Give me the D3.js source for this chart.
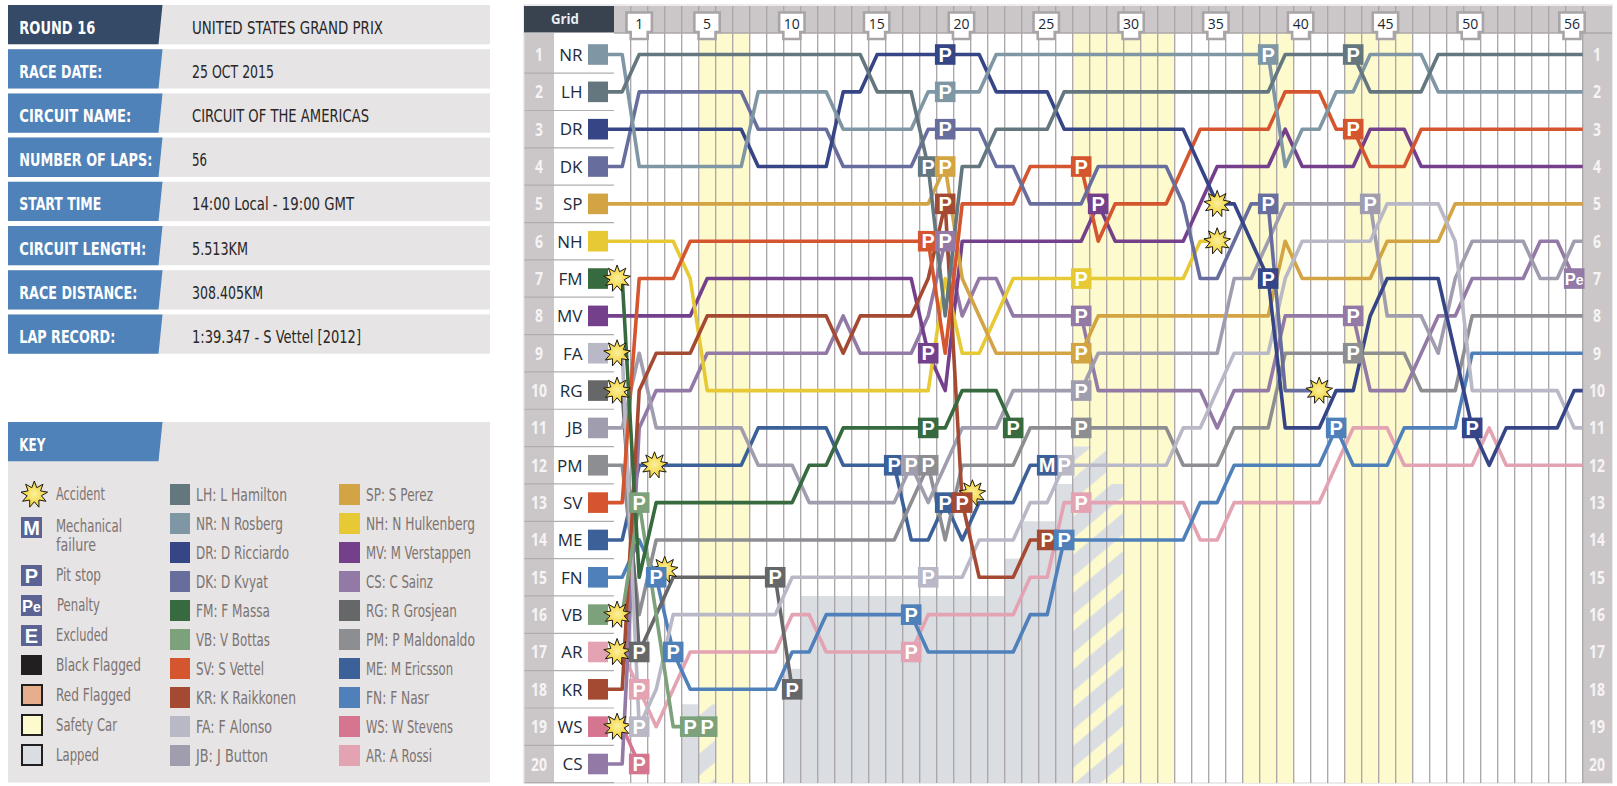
<!DOCTYPE html>
<html><head><meta charset="utf-8">
<style>html,body{margin:0;padding:0;background:#fff}svg{display:block}</style>
<script src="https://cdn.jsdelivr.net/npm/d3@7/dist/d3.min.js"></script>
</head><body><svg id="c" width="1617" height="786"></svg>
<script>
// ---------- DATA ----------
const gridOrder=["NR","LH","DR","DK","SP","NH","FM","MV","FA","RG","JB","PM","SV","ME","FN","VB","AR","KR","WS","CS"];
const drawOrder=["AR","WS","FN","ME","PM","RG","CS","MV","NH","SP","JB","FA","KR","SV","VB","FM","DK","DR","NR","LH"];
const lapTicks=[1,5,10,15,20,25,30,35,40,45,50,56];
const NR=[4,4,4,4,4,4,4,2,2,2,2,2,3,3,3,3,3,2,2,2,2,1,1,1,1,1,1,1,1,1,1,1,1,1,1,1,1,1,4,3,3,2,2,1,1,1,1,2,2,2,2,2,2,2,2,2];
const LH=[1,1,1,1,1,1,1,1,1,1,1,1,1,1,2,2,2,4,8,4,4,3,3,3,3,2,2,2,2,2,2,2,2,2,2,2,2,2,1,1,1,1,1,2,2,2,2,1,1,1,1,1,1,1,1,1];
const DR=[3,3,3,3,3,3,3,4,4,4,4,4,2,2,1,1,1,1,1,1,1,2,2,2,2,3,3,3,3,3,3,3,3,4,5,5,6,7,11,11,11,10,10,8,7,7,7,7,9,11,12,11,11,11,11,10];
const DK=[2,2,2,2,2,2,2,3,3,3,3,3,4,4,4,4,4,3,3,3,3,4,4,5,5,5,5,4,4,4,4,4,5,7,7,6,5,5,10,10,10];
const SP=[5,5,5,5,5,5,5,5,5,5,5,5,5,5,5,5,5,5,4,7,8,9,9,9,9,9,9,8,8,8,8,8,8,8,8,8,8,8,6,7,7,7,7,7,6,6,6,6,5,5,5,5,5,5,5,5];
const NH=[6,6,6,7,10,10,10,10,10,10,10,10,10,10,10,10,10,10,7,9,9,8,7,7,7,7,7,7,7,7,7,7,7,6,6];
const FM=[15,13,13,13,13,13,13,13,13,13,12,12,11,11,11,11,11,11,11,10,10,10,11];
const MV=[8,8,8,8,7,7,7,7,7,7,7,7,7,7,7,7,7,9,10,6,6,6,6,6,6,6,6,5,6,6,6,6,6,5,4,4,4,4,3,4,4,4,4,3,3,3,4,4,4,4,4,4,4,4,4,4];
const FA=[19,18,16,16,16,16,16,16,16,15,15,15,15,15,15,15,15,15,15,15,14,14,14,13,13,12,12,12,12,12,12,12,11,11,10,9,9,9,7,6,6,6,6,6,5,5,5,5,6,10,10,10,10,10,10,11];
const RG=[17,16,15,15,15,15,15,15,15,18];
const JB=[9,11,11,11,11,11,11,12,12,12,13,13,13,13,13,13,12,13,12,11,11,11,10,10,10,10,10,9,9,9,9,9,9,9,9,7,7,6,5,5,5,5,5,5,8,8,8,9,7,6,6,6,6,7,7,6];
const PM=[16,14,14,14,14,14,14,14,14,14,14,14,14,14,14,14,13,12,14,12,12,12,12,11,11,11,11,11,11,11,11,11,12,12,12,11,11,11,9,9,9,9,9,9,9,9,10,10,10,8,8,8,8,8,8,8];
const SV=[7,7,7,6,6,6,6,6,6,6,6,6,6,6,6,6,6,6,9,5,5,5,5,4,4,4,4,6,5,5,5,5,4,3,3,3,3,3,2,2,2,3,3,4,4,4,3,3,3,3,3,3,3,3,3,3];
const ME=[12,12,12,12,12,12,12,11,11,11,11,11,12,12,12,12,14,14,13,14,13,13,13,12,12];
const FN=[14,15,17,18,18,18,18,18,18,17,17,16,16,16,16,16,16,17,17,17,17,17,17,16,16,14,14,14,14,14,14,14,14,13,13,12,12,12,12,12,12,11,12,12,12,11,11,11,11,9,9,9,9,9,9,9];
const VB=[13,16,19,19,19];
const AR=[18,19,18,17,17,17,17,17,17,16,16,17,17,17,17,17,17,16,16,16,16,16,16,15,15,13,13,13,13,13,13,13,13,14,14,13,13,13,13,13,13,12,11,11,11,12,12,12,12,12,11,12,12,12,12,12];
const KR=[10,9,9,9,8,8,8,8,8,8,8,8,9,8,8,8,8,7,5,13,15,15,15,14,14];
const WS=[20];
const CS=[11,10,10,10,9,9,9,9,9,9,9,9,8,9,9,9,9,8,6,8,7,7,8,8,8,8,8,10,10,10,10,10,10,10,11,10,10,10,8,8,8,8,8,10,10,10,9,8,8,7,7,7,7,6,6,7];
const positions={NR,LH,DR,DK,SP,NH,FM,MV,FA,RG,JB,PM,SV,ME,FN,VB,AR,KR,WS,CS};
const driverColors={LH:"#64777f",NR:"#7f96a5",DR:"#354586",DK:"#676e9e",FM:"#376a3f",VB:"#7da27b",SV:"#d4552e",KR:"#a54a32",FA:"#b9b8c6",JB:"#a09dae",SP:"#d3a443",NH:"#e6c935",MV:"#743f8b",CS:"#9379a5",RG:"#666769",PM:"#8d8e92",ME:"#3c6199",FN:"#4f80b9",WS:"#d5758f",AR:"#e3a3b2"};
const pitDrivers=["VB","VB","VB","RG","RG","RG","FA","FA","FA","FN","FN","FN","FN","FN","AR","AR","AR","WS","JB","JB","JB","ME","ME","PM","PM","PM","LH","LH","SV","SV","SV","MV","MV","DR","DR","DR","NR","NR","DK","DK","SP","SP","KR","KR","KR","CS","CS","CS","FM","FM","NH"];
const pitLaps=[1,4,5,1,9,10,1,18,26,2,3,17,26,42,1,17,27,1,17,27,44,16,19,18,27,43,18,43,18,27,43,18,28,19,38,50,19,38,19,38,19,27,19,20,25,19,27,43,18,23,27];
const starLaps=[-0.3,-0.3,-0.3,-0.3,-0.3,-0.3,1.9,2.5,20.6,35,35,41];
const starRows=[7,9,10,16,17,19,12,14.8,12.75,5,6,10];
const safetyStart=[5,27,37,43];
const safetyEnd=[7,32,39,46];
const lappedLaps=[4,5,10,11,12,13,14,15,16,17,18,19,20,21,22,23,24,25,26,27,28,29];
const lappedRows=[18.9,18.9,17.95,16,16,16,16,16,16,16,16,16,16,16,16,15,14,14,13,12,12,13];
const hatchedLaps=[5,27,28,29];
const infoLabels=["ROUND 16","RACE DATE:","CIRCUIT NAME:","NUMBER OF LAPS:","START TIME","CIRCUIT LENGTH:","RACE DISTANCE:","LAP RECORD:"];
const infoValues=["UNITED STATES GRAND PRIX","25 OCT 2015","CIRCUIT OF THE AMERICAS","56","14:00 Local - 19:00 GMT","5.513KM","308.405KM","1:39.347 - S Vettel [2012]"];
const keyEvents=["Accident","Mechanical","failure","Pit stop","Penalty","Excluded","Black Flagged","Red Flagged","Safety Car","Lapped"];
const keyCol2=["LH: L Hamilton","NR: N Rosberg","DR: D Ricciardo","DK: D Kvyat","FM: F Massa","VB: V Bottas","SV: S Vettel","KR: K Raikkonen","FA: F Alonso","JB: J Button"];
const keyCol3=["SP: S Perez","NH: N Hulkenberg","MV: M Verstappen","CS: C Sainz","RG: R Grosjean","PM: P Maldonaldo","ME: M Ericsson","FN: F Nasr","WS: W Stevens","AR: A Rossi"];
// ---------- LAYOUT ----------
const infoLabelW=[76,83,112,133,82,127,118,96], infoValueW=[191,82,177,15,162,56,71,169];
const keyEventW=[49,66,40,45,43,52,85,75,61,43], keyEventY=[500,532,551,581,611,641,671,701,731,761], keyEventX=[56,56,56,56,57,56,56,56,56,56];
const keyCol2W=[91,87,93,72,74,74,68,100,76,72], keyCol3W=[67,109,105,67,91,109,87,63,87,66];
const condensed="'Liberation Sans Narrow','DejaVu Sans Condensed','Liberation Sans',sans-serif";
const svg=d3.select("#c");
const defs=svg.append("defs");
const grad=defs.append("radialGradient").attr("id","sun");
grad.append("stop").attr("offset","0%").attr("stop-color","#fbf0a0");
grad.append("stop").attr("offset","100%").attr("stop-color","#f3cf25");
const pat=defs.append("pattern").attr("id","hatch").attr("patternUnits","userSpaceOnUse").attr("width",29.3).attr("height",29.3).attr("patternTransform","rotate(-40)");
pat.append("rect").attr("y",1.4).attr("width",29.3).attr("height",16.7).attr("fill","#dadde2");

const x=d3.scaleLinear().domain([1,56]).range([639.2,1574.2]);
const y=d3.scaleLinear().domain([1,20]).range([54.5,764]);
const chartTop=33, chartBottom=783;

function txt(g,t,px,py,w,size,fill,weight){
  const e=g.append("text").attr("x",px).attr("y",py).attr("font-family",condensed).attr("font-size",size).attr("fill",fill).attr("font-weight",weight||"normal").text(t);
  if(w){e.attr("textLength",w).attr("lengthAdjust","spacingAndGlyphs");}
  return e;
}
// ---------- INFO PANEL ----------
const info=svg.append("g");
const labelPoly=(top)=>`8,${top} 162.5,${top} 158.5,${top+39.3} 8,${top+39.3}`;
infoLabels.forEach((l,i)=>{
  const top=5+i*44.2;
  info.append("rect").attr("x",8).attr("y",top).attr("width",482).attr("height",39.3).attr("fill","#e6e4e5");
  info.append("polygon").attr("points",labelPoly(top)).attr("fill",i===0?"#344a66":"#4f82b8");
  txt(info,l,19.3,top+28.5,infoLabelW[i],18,"#fff","bold");
  txt(info,infoValues[i],192,top+28.5,infoValueW[i],18,"#2a2626");
});
// ---------- KEY ----------
const key=svg.append("g");
key.append("rect").attr("x",8).attr("y",422).attr("width",482).attr("height",360.5).attr("fill","#e6e4e5");
key.append("polygon").attr("points",labelPoly(422)).attr("fill","#4f82b8");
txt(key,"KEY",19.3,450.5,26,18,"#fff","bold");
const keyText="#7d7370";
keyEvents.forEach((t,i)=>txt(key,t,keyEventX[i],keyEventY[i],keyEventW[i],18,keyText));
keyCol2.forEach((t,i)=>{
  key.append("rect").attr("x",170).attr("y",484+i*29).attr("width",20).attr("height",21).attr("fill",driverColors[t.slice(0,2)]);
  txt(key,t,196,501+i*29,keyCol2W[i],18,keyText);
});
keyCol3.forEach((t,i)=>{
  key.append("rect").attr("x",339).attr("y",484+i*29).attr("width",21).attr("height",21).attr("fill",driverColors[t.slice(0,2)]);
  txt(key,t,366,501+i*29,keyCol3W[i],18,keyText);
});
const sunR=[13.5,7.2];
const sunPath=d3.lineRadial().radius((d,i)=>sunR[i%2]).angle((d,i)=>i*Math.PI/9).curve(d3.curveLinearClosed)(d3.range(18));
function drawStar(g,cx,cy){
  g.append("path").attr("d",sunPath).attr("transform",`translate(${cx},${cy})`).attr("fill","url(#sun)").attr("stroke","#1c1a14").attr("stroke-width",1).attr("stroke-linejoin","miter");
}
function drawBox(g,cx,cy,color,label,w){
  const s=w||20.6;
  g.append("rect").attr("x",cx-s/2).attr("y",cy-s/2).attr("width",s).attr("height",s).attr("fill",color);
  const t=g.append("text").attr("x",cx).attr("y",cy+7.2).attr("text-anchor","middle").attr("font-family","'Liberation Sans',Arial,sans-serif").attr("font-weight","bold").attr("font-size",20).attr("fill","#fff");
  if(label==="Pe"){t.attr("font-size",16.5).attr("y",cy+6);t.append("tspan").text("P");t.append("tspan").attr("font-size",14).text("e");}
  else t.text(label);
}
drawStar(key,34.3,494.5);
const iconBlue="#5a6394";
drawBox(key,31.5,527.5,iconBlue,"M",21);
drawBox(key,31.5,575.5,iconBlue,"P",21);
drawBox(key,31.5,605.5,iconBlue,"Pe",21);
drawBox(key,31.5,635.5,iconBlue,"E",21);
key.append("rect").attr("x",21).attr("y",655).attr("width",21).attr("height",20).attr("fill","#231f20");
[["#e6ae8c",685],["#fdfacd",715],["#dadde2",745]].forEach(d=>{
  key.append("rect").attr("x",22).attr("y",d[1]).attr("width",20).attr("height",20).attr("fill",d[0]).attr("stroke","#231f20").attr("stroke-width",2);
});
// ---------- CHART FRAME ----------
const chart=svg.append("g");
chart.append("rect").attr("x",524).attr("y",5).attr("width",1088).attr("height",chartBottom-5).attr("fill","#fff").attr("stroke","#d9d6d7");
chart.append("rect").attr("x",614).attr("y",6).attr("width",998).attr("height",27).attr("fill","#cbc6c8");
chart.append("rect").attr("x",524.5).attr("y",33).attr("width",29.5).attr("height",chartBottom-33).attr("fill","#cbc6c8");
chart.append("rect").attr("x",x(56.5)).attr("y",33).attr("width",1612-x(56.5)).attr("height",chartBottom-33).attr("fill","#cbc6c8");
chart.append("rect").attr("x",524).attr("y",6).attr("width",90).attr("height",26.5).attr("fill","#38434f");
chart.append("text").attr("x",565).attr("y",24).attr("text-anchor","middle").attr("font-family","'Open Sans',sans-serif").attr("font-weight","bold").attr("font-size",15).attr("textLength",28).attr("lengthAdjust","spacingAndGlyphs").attr("fill","#e9eef2").text("Grid");
// safety car
safetyStart.forEach((s,i)=>{
  chart.append("rect").attr("x",x(s-0.5)).attr("y",chartTop).attr("width",x(safetyEnd[i]+0.5)-x(s-0.5)).attr("height",chartBottom-chartTop).attr("fill","#fdfacd");
});
// lapped cars
lappedLaps.forEach((l,i)=>{
  const top=y(lappedRows[i]-0.5);
  chart.append("rect").attr("x",x(l-0.5)).attr("y",top).attr("width",x(l+0.5)-x(l-0.5)).attr("height",chartBottom-top)
    .attr("fill",hatchedLaps.includes(l)?"url(#hatch)":"#dadde2");
});
// gridlines
d3.range(0.5,57,1).forEach(l=>{
  chart.append("line").attr("x1",x(l)).attr("x2",x(l)).attr("y1",6).attr("y2",chartBottom).attr("stroke","#a9a4a7").attr("stroke-width",1.3);
});
chart.append("line").attr("x1",614).attr("x2",1612).attr("y1",33).attr("y2",33).attr("stroke","#aca7aa").attr("stroke-width",1.3);
// row labels
gridOrder.forEach((code,i)=>{
  const r=i+1;
  chart.append("line").attr("x1",524.5).attr("x2",614).attr("y1",y(r+0.5)).attr("y2",y(r+0.5)).attr("stroke","#b1adaf").attr("stroke-width",1.2);
  chart.append("text").attr("x",539).attr("y",y(r)+6.5).attr("text-anchor","middle").attr("font-family","'Open Sans',sans-serif").attr("font-weight","bold").attr("font-size",17).attr("fill","#f6f4f4").attr("textLength",r>9?16:8).attr("lengthAdjust","spacingAndGlyphs").text(r);
  chart.append("text").attr("x",1597).attr("y",y(r)+6.5).attr("text-anchor","middle").attr("font-family","'Open Sans',sans-serif").attr("font-weight","bold").attr("font-size",17).attr("fill","#f6f4f4").attr("textLength",r>9?16:8).attr("lengthAdjust","spacingAndGlyphs").text(r);
  chart.append("text").attr("x",582.5).attr("y",y(r)+6.3).attr("text-anchor","end").attr("font-family","'Open Sans',sans-serif").attr("font-size",17).attr("fill","#1d2b3a").text(code);
  chart.append("rect").attr("x",588).attr("y",y(r)-10.3).attr("width",20).attr("height",20.6).attr("fill",driverColors[code]);
});
// lap tags
lapTicks.forEach(l=>{
  const c=x(l)-0.04*(l-1);
  chart.append("path").attr("d",`M${c-12.7},12.5 H${c+12.7} V32 H${c+8.5} V39 H${c-8.5} V32 H${c-12.7} Z`).attr("fill","#fff").attr("stroke","#a9a4a7").attr("stroke-width",2.6);
  chart.append("text").attr("x",c).attr("y",29).attr("text-anchor","middle").attr("font-family","'Open Sans',sans-serif").attr("font-size",14).attr("fill","#1b2633").text(l);
});
// ---------- POSITION LINES ----------
const line=d3.line().x(d=>x(d.lap)).y(d=>y(d.pos));
const lines=chart.append("g");
const swatchEdgeLap=x.invert(608);
drawOrder.forEach(code=>{
  const grid=gridOrder.indexOf(code)+1, vals=positions[code];
  let pts=[{lap:swatchEdgeLap,pos:grid},{lap:0,pos:grid}].concat(vals.map((p,i)=>({lap:i+1,pos:p})));
  if(vals.length===56) pts=pts.concat([{lap:56.5,pos:vals[55]}]);
  lines.append("path").attr("d",line(pts)).attr("fill","none").attr("stroke",driverColors[code]).attr("stroke-width",3.6).attr("stroke-linejoin","round");
});
// ---------- MARKERS ----------
const marks=chart.append("g");
starLaps.forEach((l,i)=>drawStar(marks,x(l),y(starRows[i])));
d3.range(pitLaps.length).sort((a,b)=>d3.ascending(pitLaps[a],pitLaps[b])).forEach(i=>{
  const c=pitDrivers[i], l=pitLaps[i];
  drawBox(marks,x(l),y(positions[c][l-1]),driverColors[c],"P");
});
drawBox(marks,x(25),y(ME[24]),driverColors.ME,"M");
drawBox(marks,x(56),y(CS[55]),driverColors.CS,"Pe");
</script></body></html>
